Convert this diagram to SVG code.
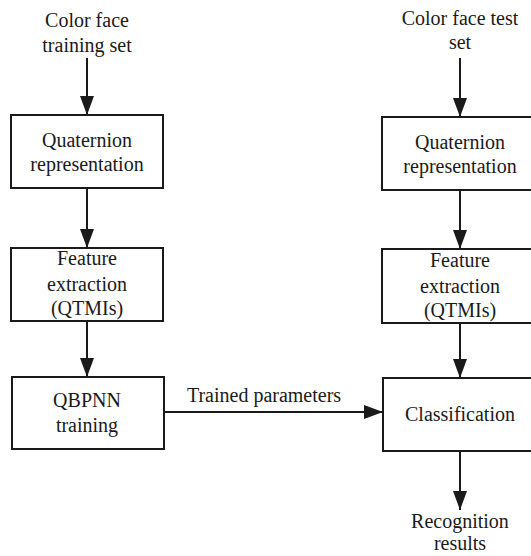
<svg xmlns="http://www.w3.org/2000/svg" width="531" height="556" viewBox="0 0 531 556">
<style>
.box{fill:#fff;stroke:#1a1a1a;stroke-width:2}
.t{font-family:'Liberation Serif','Times New Roman',Times,'DejaVu Serif',serif;font-size:20px;fill:#1a1a1a;text-anchor:middle}
.c{stroke:#1a1a1a;stroke-width:2;fill:none}
</style>
<defs>
<marker id="ah" markerUnits="userSpaceOnUse" markerWidth="20" markerHeight="16" refX="19" refY="7" orient="auto">
<path d="M0,0 L19,7 L0,14 Z" fill="#1a1a1a"/>
</marker>
</defs>
<rect width="531" height="556" fill="#fff"/>
<g id="connectors">
<line class="c" x1="87" y1="58" x2="87" y2="115" marker-end="url(#ah)"/>
<line class="c" x1="87" y1="188" x2="87" y2="248" marker-end="url(#ah)"/>
<line class="c" x1="87" y1="321" x2="87" y2="377" marker-end="url(#ah)"/>
<line class="c" x1="163" y1="412" x2="383" y2="412" marker-end="url(#ah)"/>
<line class="c" x1="460" y1="58" x2="460" y2="117" marker-end="url(#ah)"/>
<line class="c" x1="460" y1="190" x2="460" y2="249" marker-end="url(#ah)"/>
<line class="c" x1="460" y1="323" x2="460" y2="378" marker-end="url(#ah)"/>
<line class="c" x1="460" y1="451" x2="460" y2="510" marker-end="url(#ah)"/>
<text class="t" x="264" y="402" font-family="Liberation Serif, serif">Trained parameters</text>
</g>
<g id="train-input">
<text class="t" x="87" y="27">Color face</text>
<text class="t" x="87" y="52">training set</text>
</g>
<g id="train-quaternion">
<rect class="box" x="11" y="115" width="152" height="73"/>
<text class="t" x="87" y="147">Quaternion</text>
<text class="t" x="87" y="171">representation</text>
</g>
<g id="train-feature">
<rect class="box" x="11" y="248" width="152" height="73"/>
<text class="t" x="87" y="265">Feature</text>
<text class="t" x="87" y="291">extraction</text>
<text class="t" x="87" y="315">(QTMIs)</text>
</g>
<g id="qbpnn">
<rect class="box" x="12" y="377" width="152" height="72"/>
<text class="t" x="87" y="407">QBPNN</text>
<text class="t" x="87" y="432">training</text>
</g>
<g id="test-input">
<text class="t" x="460" y="25">Color face test</text>
<text class="t" x="460" y="49">set</text>
</g>
<g id="test-quaternion">
<rect class="box" x="382" y="117" width="156" height="73"/>
<text class="t" x="460" y="149">Quaternion</text>
<text class="t" x="460" y="173">representation</text>
</g>
<g id="test-feature">
<rect class="box" x="382" y="249" width="156" height="74"/>
<text class="t" x="460" y="267">Feature</text>
<text class="t" x="460" y="293">extraction</text>
<text class="t" x="460" y="317">(QTMIs)</text>
</g>
<g id="classification">
<rect class="box" x="383" y="378" width="156" height="73"/>
<text class="t" x="460" y="421">Classification</text>
</g>
<g id="results">
<text class="t" x="460" y="528">Recognition</text>
<text class="t" x="460" y="550">results</text>
</g>
</svg>
